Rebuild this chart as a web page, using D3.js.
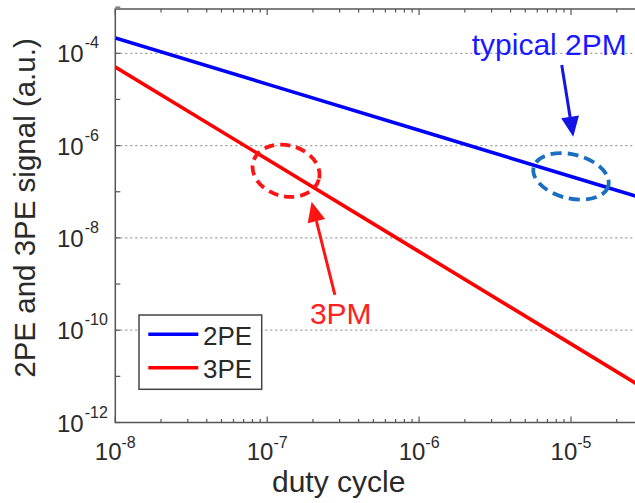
<!DOCTYPE html>
<html><head><meta charset="utf-8">
<script src="https://cdn.jsdelivr.net/npm/d3@7"></script>
<style>body{margin:0;background:#fff} svg{display:block}</style>
</head><body><svg id="c" width="635" height="503"></svg>
<script>
// ---- data ----
const dutyCycle = [1e-8, 1e-7, 1e-6, 1e-5, 1e-4];
const signal2PE = [2.15e-4, 2.15e-5, 2.15e-6, 2.15e-7, 2.15e-8];
const signal3PE = [5.05e-5, 5.05e-7, 5.05e-9, 5.05e-11, 5.05e-13];
const seriesNames = ["2PE", "3PE"];
const seriesColors = ["#0000ff", "#ff0000"];
const xTickValues = [1e-8, 1e-7, 1e-6, 1e-5];
const xTickExponents = ["-8", "-7", "-6", "-5"];
const yTickValues = [1e-12, 1e-10, 1e-8, 1e-6, 1e-4];
const yTickExponents = ["-12", "-10", "-8", "-6", "-4"];
const xLabel = "duty cycle";
const yLabel = "2PE and 3PE signal (a.u.)";
// annotations (data coordinates)
const annot2PM = {text: "typical 2PM", textAt: [2.22e-6, 9.2e-5], from: [8.69e-6, 5.58e-5], to: [1.035e-5, 1.56e-6], ellipse: [1e-5, 2.15e-7]};
const annot3PM = {text: "3PM", textAt: [1.91e-7, 1.36e-10], from: [2.79e-7, 5.8e-10], to: [1.96e-7, 6.08e-8], ellipse: [1.33e-7, 2.85e-7]};

// ---- layout ----
const W = 635, H = 503;
const pLeft = 115.3, pTop = 9, pBottom = 422.5;
const decX = 151.9;
const FONT = "'Liberation Sans', Arial, Helvetica, sans-serif";

const x = d3.scaleLog().domain([1e-8, 1e-4]).range([pLeft, pLeft + 4 * decX]);
const y = d3.scaleLog().domain([1e-12, 1e-4]).range([pBottom, 53.3]);

const svg = d3.select("#c");
svg.append("rect").attr("width", W).attr("height", H).attr("fill", "#fff");

const defs = svg.append("defs");
defs.append("clipPath").attr("id", "plot").append("rect")
  .attr("x", pLeft).attr("y", pTop).attr("width", W - pLeft + 10).attr("height", pBottom - pTop);

// grid lines
svg.append("g").selectAll("line").data(yTickValues.filter(v => v > 1e-12)).join("line")
  .attr("x1", pLeft).attr("x2", W + 5)
  .attr("y1", d => y(d)).attr("y2", d => y(d))
  .attr("stroke", "#9a9a9a").attr("stroke-width", 1.3).attr("stroke-dasharray", "2,3");

// frame
const axisColor = "#555";
const frame = svg.append("g").attr("stroke", axisColor).attr("stroke-width", 1.5).attr("fill", "none");
frame.append("path").attr("d", `M${W + 5},${pTop}H${pLeft}V${pBottom}H${W + 5}`);

// x ticks (major + minor), inward on bottom and top
const xMinor = [];
for (let e = -8; e < -4; e++) for (let k = 1; k <= 9; k++) xMinor.push({v: k * Math.pow(10, e), major: k === 1});
const tickG = svg.append("g").attr("stroke", axisColor).attr("stroke-width", 1.2);
tickG.selectAll(".xb").data(xMinor).join("line").attr("class", "xb")
  .attr("x1", d => x(d.v)).attr("x2", d => x(d.v))
  .attr("y1", pBottom).attr("y2", d => pBottom - (d.major ? 6 : 3.5));
tickG.selectAll(".xt").data(xMinor).join("line").attr("class", "xt")
  .attr("x1", d => x(d.v)).attr("x2", d => x(d.v))
  .attr("y1", pTop).attr("y2", d => pTop + (d.major ? 6 : 3.5));
// y ticks at each decade on left
const yDec = d3.range(-12, -2).map(e => Math.pow(10, e));
tickG.selectAll(".yl").data(yDec).join("line").attr("class", "yl")
  .attr("x1", pLeft).attr("x2", pLeft + 5)
  .attr("y1", d => y(d)).attr("y2", d => y(d));

// series lines
const line = d3.line().x(d => x(d[0])).y(d => y(d[1]));
const seriesData = [signal2PE, signal3PE];
svg.append("g").attr("clip-path", "url(#plot)").selectAll("path").data(seriesData).join("path")
  .attr("d", s => line(dutyCycle.map((dc, i) => [dc, s[i]])))
  .attr("fill", "none").attr("stroke", (d, i) => seriesColors[i]).attr("stroke-width", 3.6);

// tick labels
const labColor = "#2a2a2a";
const xl = svg.append("g").attr("font-family", FONT).attr("fill", labColor);
xTickValues.forEach((v, i) => {
  const t = xl.append("text").attr("x", x(v)).attr("y", 460).attr("text-anchor", "middle").attr("font-size", 24);
  t.append("tspan").text("10");
  t.append("tspan").attr("dy", -12).attr("font-size", 16).text(xTickExponents[i]);
});
yTickValues.forEach((v, i) => {
  const t = xl.append("text").attr("x", 57).attr("y", y(v) + 9).attr("font-size", 24);
  t.append("tspan").text("10");
  t.append("tspan").attr("dy", -14).attr("dx", 1).attr("font-size", 16).text(yTickExponents[i]);
});

// axis labels
svg.append("text").attr("x", 338.7).attr("y", 491.5).attr("text-anchor", "middle")
  .attr("font-family", FONT).attr("font-size", 30).attr("fill", labColor).text(xLabel);
svg.append("text").attr("transform", "translate(35,208) rotate(-90)").attr("text-anchor", "middle")
  .attr("font-family", FONT).attr("font-size", 29.5).attr("fill", labColor).text(yLabel);

// legend
const lg = svg.append("g");
lg.append("rect").attr("x", 139).attr("y", 315).attr("width", 122.7).attr("height", 74.3)
  .attr("fill", "#fff").attr("stroke", "#444").attr("stroke-width", 1.5);
seriesNames.forEach((n, i) => {
  const yy = 334.3 + i * 33.4;
  lg.append("line").attr("x1", 148.3).attr("x2", 198.3).attr("y1", yy).attr("y2", yy)
    .attr("stroke", seriesColors[i]).attr("stroke-width", 3.6);
  lg.append("text").attr("x", 203).attr("y", yy + 10.5).attr("font-family", FONT)
    .attr("font-size", 26).attr("fill", labColor).text(n);
});

// annotations
function arrow(a, color) {
  const x1 = x(a.from[0]), y1 = y(a.from[1]), x2 = x(a.to[0]), y2 = y(a.to[1]);
  const ang = Math.atan2(y2 - y1, x2 - x1);
  const L = 20, Wd = 9;
  const bx = x2 - L * Math.cos(ang), by = y2 - L * Math.sin(ang);
  svg.append("line").attr("x1", x1).attr("y1", y1).attr("x2", bx).attr("y2", by)
    .attr("stroke", color).attr("stroke-width", 3);
  const px = -Math.sin(ang), py = Math.cos(ang);
  svg.append("path").attr("d", `M${x2},${y2}L${bx + px * Wd},${by + py * Wd}L${bx - px * Wd},${by - py * Wd}Z`)
    .attr("fill", color);
}
// 2PM
const cx2 = x(annot2PM.ellipse[0]), cy2 = y(annot2PM.ellipse[1]);
svg.append("ellipse").attr("cx", cx2).attr("cy", cy2)
  .attr("rx", 38.5).attr("ry", 22).attr("fill", "none").attr("stroke", "#1a6fc0")
  .attr("stroke-width", 3.8).attr("stroke-dasharray", "11,6")
  .attr("transform", `rotate(14,${cx2},${cy2})`);
arrow(annot2PM, "#1414e6");
svg.append("text").attr("x", x(annot2PM.textAt[0])).attr("y", y(annot2PM.textAt[1]))
  .attr("font-family", FONT).attr("font-size", 30).attr("fill", "#1a1aff").text(annot2PM.text);
// 3PM
const cx3 = x(annot3PM.ellipse[0]), cy3 = y(annot3PM.ellipse[1]);
svg.append("ellipse").attr("cx", cx3).attr("cy", cy3)
  .attr("rx", 34).attr("ry", 25.5).attr("fill", "none").attr("stroke", "#ff1414")
  .attr("stroke-width", 3.8).attr("stroke-dasharray", "10,6")
  .attr("transform", `rotate(15,${cx3},${cy3})`);
arrow(annot3PM, "#ff1414");
svg.append("text").attr("x", x(annot3PM.textAt[0])).attr("y", y(annot3PM.textAt[1]))
  .attr("font-family", FONT).attr("font-size", 30).attr("fill", "#ff2020").text(annot3PM.text);
</script>
</body></html>
